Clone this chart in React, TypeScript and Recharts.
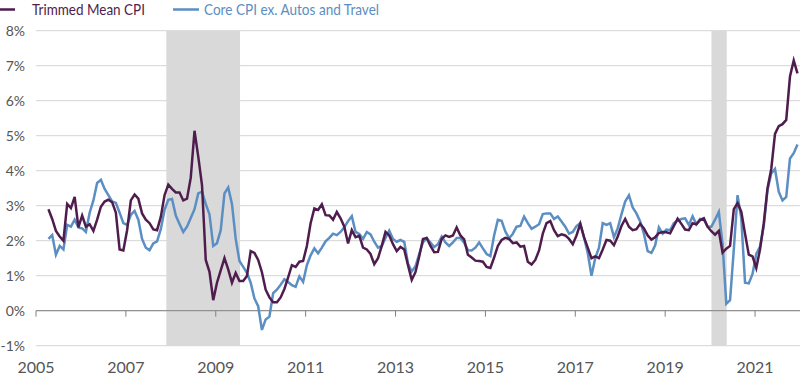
import React from 'react';
import { LineChart, Line, XAxis, YAxis, CartesianGrid, ReferenceArea, ReferenceLine } from 'recharts';

// Monthly data, April 2005 through December 2021 (percent)
const START_YEAR = 2005;
const START_MONTH = 4;

const trimmedMeanCPI = [
  2.9, 2.62, 2.28, 2.12, 2.0, 3.05, 2.93, 3.25, 2.38, 2.72,
  2.4, 2.47, 2.28, 2.6, 2.97, 3.12, 3.17, 3.1, 2.8, 1.75,
  1.72, 2.3, 3.15, 3.32, 3.2, 2.78, 2.6, 2.5, 2.32, 2.3,
  2.68, 3.3, 3.6, 3.48, 3.38, 3.38, 3.15, 3.2, 3.8, 5.14,
  4.4, 3.59, 1.45, 1.11, 0.3, 0.8, 1.15, 1.5, 1.18, 0.8,
  1.08, 0.85, 0.85, 0.99, 1.7, 1.65, 1.45, 1.1, 0.6, 0.38,
  0.24, 0.24, 0.38, 0.62, 0.95, 1.3, 1.25, 1.4, 1.42, 1.85,
  2.5, 2.92, 2.88, 3.04, 2.73, 2.72, 2.6, 2.82, 2.64, 2.4,
  1.92, 2.3, 2.1, 2.14, 1.8, 1.75, 1.62, 1.33, 1.5, 1.85,
  2.25, 2.15, 1.9, 1.7, 1.82, 1.75, 1.3, 0.88, 1.1, 1.55,
  2.05, 2.08, 1.85, 1.67, 1.68, 2.05, 2.15, 2.11, 2.15, 2.38,
  2.15, 2.04, 1.6, 1.52, 1.43, 1.42, 1.4, 1.25, 1.22, 1.52,
  1.85, 2.02, 2.08, 2.05, 1.93, 1.95, 1.83, 1.85, 1.4, 1.32,
  1.45, 1.72, 2.2, 2.5, 2.56, 2.3, 2.13, 2.18, 2.15, 2.05,
  1.9, 2.15, 2.48, 2.1, 1.8, 1.5, 1.55, 1.5, 1.75, 2.02,
  2.0, 1.87, 2.12, 2.42, 2.62, 2.4, 2.3, 2.33, 2.48, 2.35,
  2.15, 2.03, 2.1, 2.22, 2.25, 2.24, 2.21, 2.42, 2.63, 2.48,
  2.32, 2.3, 2.5, 2.47, 2.59, 2.64, 2.4, 2.27, 2.17, 2.28,
  1.66, 1.77, 1.85, 2.9, 3.07, 2.83, 2.2, 1.6, 1.55, 1.22,
  1.75, 2.5, 3.5, 4.05, 5.05, 5.27, 5.33, 5.45, 6.69, 7.15, 6.78,
];

const coreCPIexAutosTravel = [
  2.05, 2.16, 1.6, 1.85, 1.75, 2.45, 2.4, 2.6, 2.38, 2.35,
  2.25, 2.8, 3.15, 3.65, 3.74, 3.48, 3.3, 3.12, 3.08, 2.8,
  2.5, 2.45, 2.74, 2.85, 2.6, 2.05, 1.8, 1.73, 1.92, 1.98,
  2.33, 2.88, 3.17, 3.19, 2.72, 2.48, 2.25, 2.4, 2.65, 2.9,
  3.35, 3.4, 3.05, 2.75, 1.85, 1.93, 2.3, 3.35, 3.52, 3.05,
  2.05, 1.42, 1.25, 1.08, 0.8, 0.35, 0.13, -0.55, -0.25, -0.17,
  0.5, 0.6, 0.74, 0.9, 0.82, 0.73, 0.68, 0.98, 0.82, 1.3,
  1.58, 1.78, 1.64, 1.8, 1.98, 2.08, 2.2, 2.16, 2.25, 2.38,
  2.56, 2.7, 2.25, 2.19, 2.05, 2.25, 2.18, 1.97, 1.8, 1.85,
  2.08, 2.29, 2.05, 1.97, 2.02, 1.97, 1.35, 1.12, 1.27, 1.62,
  1.95, 2.07, 1.95, 1.82, 1.9, 2.12, 1.95, 1.85, 1.95, 2.08,
  2.08, 1.94, 1.73, 1.72, 1.8, 1.95, 1.78, 1.62, 1.56, 2.15,
  2.6, 2.57, 2.26, 2.07, 2.2, 2.4, 2.42, 2.69, 2.5, 2.34,
  2.4, 2.47, 2.76, 2.78, 2.78, 2.62, 2.69, 2.55, 2.4, 2.2,
  2.25, 2.42, 2.5, 2.1, 1.65, 1.0, 1.5, 1.8, 2.5, 2.45,
  2.5, 2.1, 2.35, 2.75, 3.12, 3.3, 2.95, 2.78, 2.55, 2.2,
  1.7, 1.65, 1.87, 2.38, 2.2, 2.32, 2.3, 2.5, 2.57, 2.62,
  2.64, 2.45, 2.7, 2.47, 2.62, 2.6, 2.4, 2.4, 2.6, 2.82,
  1.9, 0.2, 0.3, 1.75, 3.3, 2.64, 0.8, 0.78, 1.05, 1.62,
  1.83, 2.42, 3.45, 3.92, 4.05, 3.4, 3.15, 3.25, 4.35, 4.5, 4.75,
];

const seriesNames = ['Trimmed Mean CPI', 'Core CPI ex. Autos and Travel'];
const xTicks = [2005, 2007, 2009, 2011, 2013, 2015, 2017, 2019, 2021];
const yTicks = [-1, 0, 1, 2, 3, 4, 5, 6, 7, 8];
const recessionStarts = [2007.9, 2020.03];
const recessionEnds = [2009.54, 2020.37];

const PURPLE = '#4f1d4d';
const BLUE = '#5b8ec2';
const FONT = 'Lato, "Open Sans", sans-serif';

const data = trimmedMeanCPI.map((v, i) => ({
  t: START_YEAR + (START_MONTH - 1 + i) / 12 + 0.027,
  trimmed: v,
  core: coreCPIexAutosTravel[i],
}));

function LegendBar() {
  return (
    <svg width={800} height={24} style={{ position: 'absolute', left: 0, top: 0 }}>
      <line x1={0} y1={9.5} x2={15} y2={9.5} stroke={PURPLE} strokeWidth={2.5} />
      <text x={32} y={15} fill={PURPLE} fontSize={15} fontFamily={FONT} textLength={113} lengthAdjust="spacingAndGlyphs">
        {seriesNames[0]}
      </text>
      <line x1={173} y1={9.5} x2={199} y2={9.5} stroke={BLUE} strokeWidth={2.5} />
      <text x={204} y={15} fill={BLUE} fontSize={15} fontFamily={FONT} textLength={175} lengthAdjust="spacingAndGlyphs">
        {seriesNames[1]}
      </text>
    </svg>
  );
}

export default function App() {
  return (
    <div style={{ position: 'absolute', left: 0, top: 0, width: 800, height: 375, background: '#fff', overflow: 'hidden' }}>
      <LineChart
        width={800}
        height={375}
        data={data}
        margin={{ top: 30.7, right: 0, bottom: 29.3, left: 0 }}
        style={{ fontFamily: FONT }}
      >
        <CartesianGrid vertical={false} stroke="#d4d4d4" strokeWidth={1} />
        {recessionStarts.map((s, i) => (
          <ReferenceArea key={i} x1={s} x2={recessionEnds[i]} y1={-1} y2={8} fill="#d9d9d9" fillOpacity={1} stroke="none" />
        ))}
        <XAxis
          dataKey="t"
          type="number"
          domain={[2005, 2022]}
          ticks={xTicks}
          allowDataOverflow
          axisLine={false}
          tickLine={false}
          tickSize={6}
          tickMargin={10}
          height={0.01}
          tick={{ fill: '#555', fontSize: 16, fontFamily: FONT }}
          interval={0}
        />
        <YAxis
          type="number"
          domain={[-1, 8]}
          ticks={yTicks}
          width={36}
          axisLine={false}
          tickLine={false}
          tickSize={6}
          tickMargin={5}
          interval={0}
          tickFormatter={(v: number) => `${v}%`}
          tick={{ fill: '#555', fontSize: 14, fontFamily: FONT }}
        />
        <ReferenceLine y={0} stroke="#808080" strokeWidth={1} />
        {xTicks.map((t) => (
          <ReferenceLine key={t} segment={[{ x: t, y: 0 }, { x: t, y: -0.17 }]} stroke="#808080" strokeWidth={1} />
        ))}
        <Line type="linear" dataKey="core" stroke={BLUE} strokeWidth={2.5} dot={false} isAnimationActive={false} />
        <Line type="linear" dataKey="trimmed" stroke={PURPLE} strokeWidth={2.5} dot={false} isAnimationActive={false} />
      </LineChart>
      <LegendBar />
    </div>
  );
}
